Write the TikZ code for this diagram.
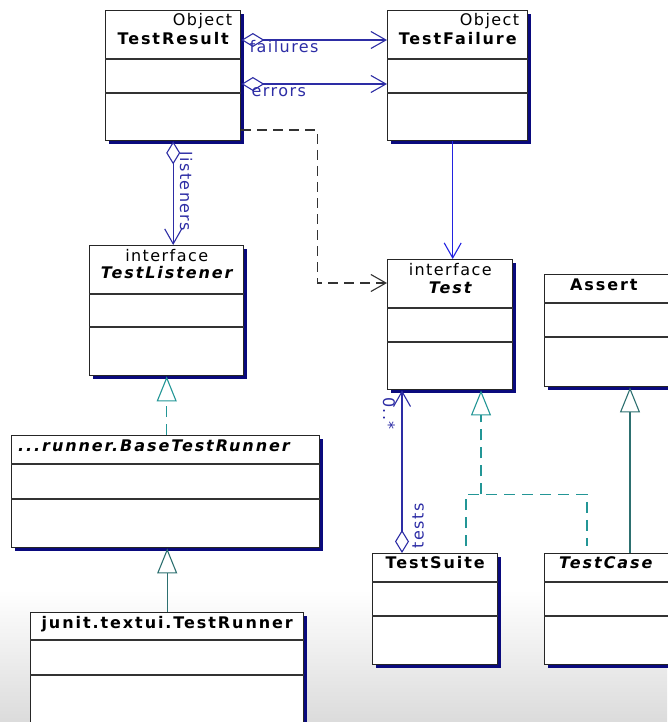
\documentclass[tikz,border=0pt]{standalone}
\usepackage{fontspec}
\setmainfont{DejaVu Sans}[LetterSpace=9]
\newfontfamily\classfont{DejaVu Sans}[LetterSpace=12]
\usetikzlibrary{arrows.meta,shadows}
\definecolor{shadowblue}{RGB}{10,10,125}
\definecolor{assocblue}{RGB}{45,45,165}
\definecolor{navblue}{RGB}{35,35,225}
\definecolor{realteal}{RGB}{35,150,150}
\definecolor{genteal}{RGB}{45,112,112}
\tikzset{
    class-box/.style = {draw=black!85, fill=white, line width=1.4pt, rectangle, inner sep=0pt, anchor=north west,
        drop shadow={shadow xshift=3.5pt, shadow yshift=-3.5pt, fill=shadowblue, opacity=1}},
    class-line/.style = {draw=black!80, line width=1.1pt},
    class-title/.style = {font=\classfont\fontsize{16}{18}\selectfont\bfseries, anchor=base, inner sep=0pt},
    class-abstract/.style = {class-title, font=\classfont\fontsize{16}{18}\selectfont\bfseries\itshape},
    stereo/.style = {font=\fontsize{16}{18}\selectfont, inner sep=0pt, anchor=base},
    role/.style = {font=\fontsize{16}{18}\selectfont, text=assocblue, inner sep=0pt},
    assoc/.style = {draw=assocblue, line width=1.1pt, {Diamond[open,length=23pt,width=14pt]}-{Straight Barb[length=15pt,width=17pt]}},
    navigate/.style = {draw=navblue, line width=1.1pt, -{Straight Barb[length=15pt,width=17pt]}},
    depend/.style = {draw=black!80, line width=1.1pt, dash pattern=on 10pt off 6pt, -{Straight Barb[length=15pt,width=17pt]}},
    realize/.style = {draw=realteal, line width=1.1pt, dash pattern=on 11pt off 7pt, -{Triangle[open,length=25pt,width=20pt]}},
    generalize/.style = {draw=genteal, line width=1.1pt, -{Triangle[open,length=25pt,width=20pt]}},
}
\newcommand{\compartments}[3]{%
    \draw[class-line] ([yshift=-#2pt]#1.north west) -- ([yshift=-#2pt]#1.north east);
    \draw[class-line] ([yshift=-#3pt]#1.north west) -- ([yshift=-#3pt]#1.north east);}

\begin{document}
\begin{tikzpicture}[x=1pt, y=-1pt]
\useasboundingbox (0,0) rectangle (667,722);
\shade[top color=white, bottom color=black!14] (0,590) rectangle (667,722);

\node[class-box, minimum width=135pt, minimum height=130pt] (result) at (105,10) {};
\node[stereo, anchor=base east] (result-stereo) at ([xshift=-9pt,yshift=-16pt]result.north east) {Object};
\node[class-title] (result-title) at ([yshift=-35pt]result.north) {TestResult};
\compartments{result}{49}{83}

\node[class-box, minimum width=140pt, minimum height=130pt] (failure) at (387,10) {};
\node[stereo, anchor=base east] (failure-stereo) at ([xshift=-9pt,yshift=-16pt]failure.north east) {Object};
\node[class-title] (failure-title) at ([yshift=-35pt]failure.north) {TestFailure};
\compartments{failure}{49}{83}

\node[class-box, minimum width=154pt, minimum height=130pt] (listener) at (89,245) {};
\node[stereo] (listener-stereo) at ([yshift=-16pt]listener.north) {interface};
\node[class-abstract] (listener-title) at ([yshift=-33pt]listener.north) {TestListener};
\compartments{listener}{49}{82}

\node[class-box, minimum width=125pt, minimum height=130pt] (test) at (387,259) {};
\node[stereo] (test-stereo) at ([yshift=-16pt]test.north) {interface};
\node[class-abstract] (test-title) at ([yshift=-34pt]test.north) {Test};
\compartments{test}{49}{83}

\node[class-box, minimum width=128pt, minimum height=112pt] (assert) at (544,274) {};
\node[class-title, anchor=base west] (assert-title) at ([xshift=26pt,yshift=-16pt]assert.north west) {Assert};
\compartments{assert}{29}{63}

\node[class-box, minimum width=308pt, minimum height=112pt] (base) at (11,435) {};
\node[class-abstract, anchor=base west] (base-title) at ([xshift=7pt,yshift=-16pt]base.north west) {...runner.BaseTestRunner};
\compartments{base}{29}{64}

\node[class-box, minimum width=273pt, minimum height=118pt] (runner) at (30,612) {};
\node[class-title] (runner-title) at ([yshift=-16pt]runner.north) {junit.textui.TestRunner};
\compartments{runner}{28}{63}

\node[class-box, minimum width=125pt, minimum height=111pt] (suite) at (372,553) {};
\node[class-title] (suite-title) at ([yshift=-15pt]suite.north) {TestSuite};
\compartments{suite}{29}{63}

\node[class-box, minimum width=128pt, minimum height=111pt] (case) at (544,553) {};
\node[class-abstract, anchor=base west] (case-title) at ([xshift=15pt,yshift=-15pt]case.north west) {TestCase};
\compartments{case}{29}{63}

\draw[assoc] ([yshift=-30pt]result.north east) -- ([yshift=-30pt]failure.north west);
\node[role, anchor=base west] (failures-label) at ([xshift=8pt,yshift=-43pt]result.north east) {failures};
\draw[assoc] ([yshift=-74pt]result.north east) -- ([yshift=-74pt]failure.north west);
\node[role, anchor=base west] (errors-label) at ([xshift=10pt,yshift=-87pt]result.north east) {errors};
\draw[depend] ([yshift=-120pt]result.north east) -- ++(76,0) |- ([yshift=-24pt]test.north west);
\draw[navigate] ([xshift=-5pt]failure.south) -- ([xshift=-5pt]failure.south |- test.north);
\draw[assoc] (result.south) -- (result.south |- listener.north);
\node[role, rotate=-90] (listeners-label) at ([xshift=13pt,yshift=-50pt]result.south) {listeners};
\draw[realize] (listener.south |- base.north) -- (listener.south);
\draw[generalize] (runner.north) -- (runner.north |- base.south);
\draw[assoc] ([xshift=30pt]suite.north west) -- ([xshift=30pt]suite.north west |- test.south);
\node[role, rotate=90] (tests-label) at ([xshift=46pt,yshift=27pt]suite.north west) {tests};
\node[role, rotate=-90] (many-label) at ([xshift=2pt,yshift=-23pt]test.south west) {0..*};
\coordinate (split) at ([xshift=94pt,yshift=-104pt]test.south west);
\draw[realize, -] ([xshift=94pt,yshift=7pt]suite.north west) |- (split) -| ([xshift=43pt,yshift=7pt]case.north west);
\draw[realize] (split) -- ([xshift=94pt]test.south west);
\draw[generalize] ([xshift=86pt]case.north west) -- ([xshift=86pt]assert.south west);
\end{tikzpicture}
\end{document}
